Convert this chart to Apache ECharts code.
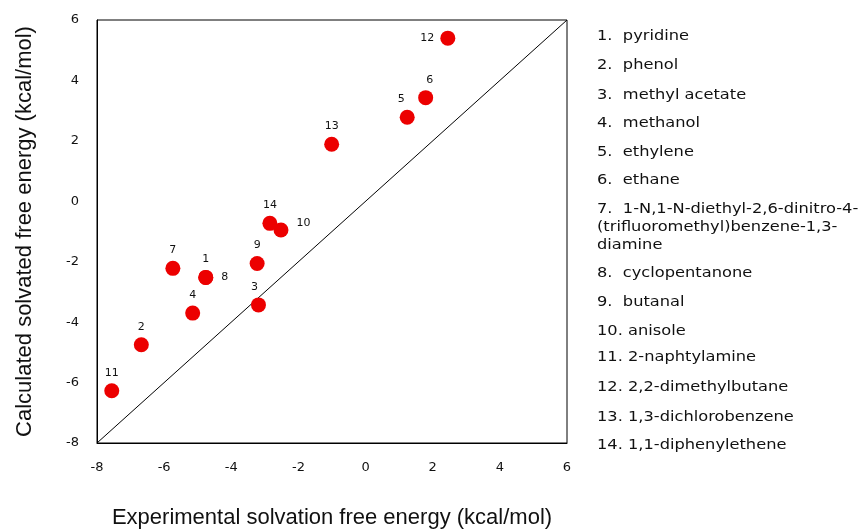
<!DOCTYPE html>
<html>
<head>
<meta charset="utf-8">
<script src="https://cdn.jsdelivr.net/npm/echarts@6/dist/echarts.min.js"></script>
<style>html,body{margin:0;padding:0;background:#fff;}#c{width:860px;height:530px;}</style>
</head>
<body>
<div id="c"></div>
<script>
// ---- data ----
const pointIds = ['1','2','3','4','5','6','7','8','9','10','11','12','13','14'];
const experimental = [-4.76, -6.68, -3.19, -5.15, 1.24, 1.79, -5.74, -4.76, -3.23, -2.52, -7.56, 2.45, -1.01, -2.85];
const calculated  = [-2.52, -4.75, -3.43, -3.70, 2.78, 3.43, -2.22, -2.52, -2.06, -0.95, -6.27, 5.40, 1.89, -0.73];
const identityLine = [[-8, -8], [6, 6]];
const compoundNames = [
  '1.  pyridine',
  '2.  phenol',
  '3.  methyl acetate',
  '4.  methanol',
  '5.  ethylene',
  '6.  ethane',
  '7.  1-N,1-N-diethyl-2,6-dinitro-4-\n(trifluoromethyl)benzene-1,3-\ndiamine',
  '8.  cyclopentanone',
  '9.  butanal',
  '10. anisole',
  '11. 2-naphtylamine',
  '12. 2,2-dimethylbutane',
  '13. 1,3-dichlorobenzene',
  '14. 1,1-diphenylethene'
];
const xTitle = 'Experimental solvation free energy (kcal/mol)';
const yTitle = 'Calculated solvated free energy (kcal/mol)';

// ---- layout ----
const labelPlacement = {
  '8': {position: 'right', offset: [3, 0]},
  '10': {position: 'right', offset: [3, -7]},
  '12': {position: 'left', offset: [-1, 0]},
  '5': {position: 'top', offset: [-6, 0]},
  '6': {position: 'top', offset: [4, 0]},
  '3': {position: 'top', offset: [-4, 0]}
};
const legendY = [36, 65, 95, 123, 152, 180, 209, 273, 302, 331, 357, 387, 417, 445];

const order = [7,0,1,2,3,4,5,6,8,9,10,11,12,13]; // draw 8 under 1
const points = order.map(i => {
  const lp = labelPlacement[pointIds[i]] || {position: 'top', offset: [0, 0]};
  return {
    value: [experimental[i], calculated[i]],
    name: pointIds[i],
    label: {position: lp.position, offset: lp.offset}
  };
});

const legendGraphics = compoundNames.map((t, i) => ({
  type: 'text',
  x: 597,
  y: legendY[i] - 9,
  scaleX: 1.16,
  style: {
    text: t,
    font: '14px "DejaVu Sans", Verdana, sans-serif',
    fill: '#111',
    lineHeight: 18
  }
}));

const chart = echarts.init(document.getElementById('c'), null, {renderer: 'canvas'});
chart.setOption({
  animation: false,
  backgroundColor: '#fff',
  grid: {left: 97, right: 293, top: 20, bottom: 87, show: true, borderColor: '#000', borderWidth: 1,
         backgroundColor: 'transparent', containLabel: false, outerBoundsMode: 'none'},
  xAxis: {
    type: 'value', min: -8, max: 6, interval: 2,
    axisLine: {show: true, onZero: false, lineStyle: {color: '#000', width: 1}},
    axisTick: {show: false},
    splitLine: {show: false},
    axisLabel: {margin: 18, color: '#111', fontSize: 13, fontFamily: '"DejaVu Sans", Verdana, sans-serif'},
    name: xTitle, nameLocation: 'middle', nameGap: 64,
    nameTextStyle: {fontSize: 22, color: '#111', fontFamily: '"Liberation Sans", Arial, sans-serif'}
  },
  yAxis: {
    type: 'value', min: -8, max: 6, interval: 2,
    axisLine: {show: true, onZero: false, lineStyle: {color: '#000', width: 1}},
    axisTick: {show: false},
    splitLine: {show: false},
    axisLabel: {margin: 18, color: '#111', fontSize: 13, fontFamily: '"DejaVu Sans", Verdana, sans-serif'},
    name: yTitle, nameLocation: 'middle', nameGap: 61,
    nameTextStyle: {fontSize: 22, color: '#111', fontFamily: '"Liberation Sans", Arial, sans-serif'}
  },
  series: [
    {
      type: 'line',
      data: identityLine,
      symbol: 'none',
      lineStyle: {color: '#000', width: 1},
      silent: true,
      z: 1
    },
    {
      type: 'scatter',
      data: points,
      symbolSize: 15,
      itemStyle: {color: '#ec0000', opacity: 1},
      label: {
        show: true,
        formatter: p => p.name,
        fontSize: 11,
        color: '#111',
        distance: 5,
        fontFamily: '"DejaVu Sans", Verdana, sans-serif'
      },
      z: 3
    }
  ],
  graphic: legendGraphics
});
</script>
</body>
</html>
